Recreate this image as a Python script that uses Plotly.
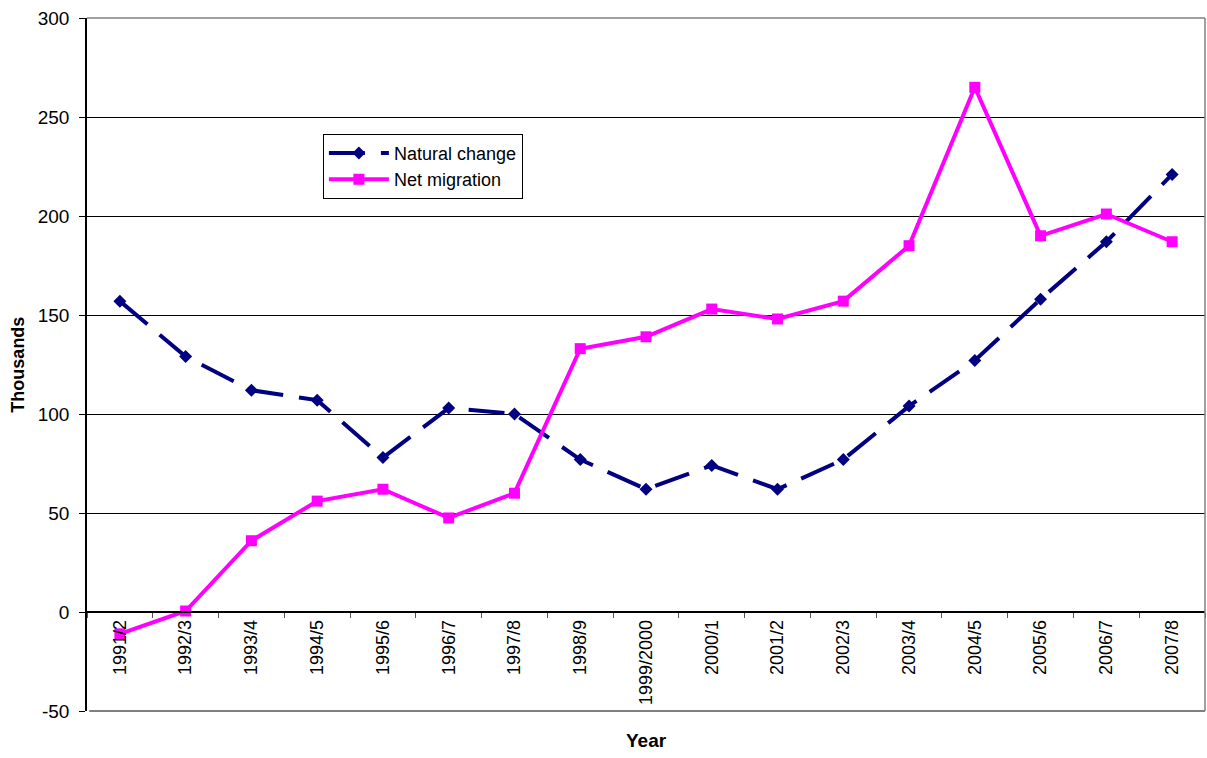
import plotly.graph_objects as go

years = ["1991/2", "1992/3", "1993/4", "1994/5", "1995/6", "1996/7", "1997/8", "1998/9",
         "1999/2000", "2000/1", "2001/2", "2002/3", "2003/4", "2004/5", "2005/6", "2006/7", "2007/8"]
natural_change = [157, 129, 112, 107, 78, 103, 100, 77, 62, 74, 62, 77, 104, 127, 158, 187, 221]
net_migration = [-11, 0.5, 36, 56, 62, 47.5, 60, 133, 139, 153, 148, 157, 185, 265, 190, 201, 187]

y_ticks = [-50, 0, 50, 100, 150, 200, 250, 300]
y_tick_labels = ["-50", "0", "50", "100", "150", "200", "250", "300"]

y_min, y_max = -50, 300
FONT = "Liberation Sans, Arial, sans-serif"

fig = go.Figure()
fig.add_trace(go.Scatter(
    x=years, y=natural_change, name="Natural change", mode="lines+markers",
    line=dict(color="#000080", width=4, dash="36px,16px"),
    marker=dict(symbol="diamond", size=10, color="#000080"),
))
fig.add_trace(go.Scatter(
    x=years, y=net_migration, name="Net migration", mode="lines+markers",
    line=dict(color="#FF00FF", width=4),
    marker=dict(symbol="square", size=11, color="#FF00FF"),
))

zero_pos = (0 - y_min) / (y_max - y_min)

fig.update_layout(
    width=1207, height=758,
    margin=dict(l=87, r=2, t=18, b=47),
    paper_bgcolor="white", plot_bgcolor="white",
    font=dict(family=FONT, size=17, color="black"),
    showlegend=True,
    legend=dict(
        x=0.211, y=0.833, xanchor="left", yanchor="top",
        bgcolor="white", bordercolor="black", borderwidth=1,
        font=dict(family=FONT, size=18, color="black"),
        itemwidth=60, tracegroupgap=0,
    ),
    xaxis=dict(
        type="category", anchor="free", position=zero_pos,
        showline=True, linecolor="black", linewidth=1.5,
        ticks="outside", ticklen=5, tickcolor="#555555", tickson="boundaries",
        tickangle=-90, showgrid=False, zeroline=False,
        tickfont=dict(family=FONT, size=18, color="black"),
        range=[-0.5, len(years) - 0.5],
        ticklabeloverflow="allow",
    ),
    yaxis=dict(
        range=[y_min, y_max], tickmode="array",
        tickvals=y_ticks, ticktext=y_tick_labels,
        showline=True, linecolor="black", linewidth=1.5,
        ticks="outside", ticklen=6, tickcolor="black",
        showgrid=True, gridcolor="black", gridwidth=1,
        zeroline=False,
        tickfont=dict(family=FONT, size=19, color="black"),
        ticklabelstandoff=6,
        ticklabeloverflow="allow",
    ),
    shapes=[
        dict(type="line", xref="paper", yref="paper", x0=0, x1=1, y0=1, y1=1,
             line=dict(color="#808080", width=1.5), layer="above"),
        dict(type="line", xref="paper", yref="paper", x0=1, x1=1, y0=0, y1=1,
             line=dict(color="#808080", width=1.5), layer="above"),
        dict(type="line", xref="paper", yref="paper", x0=0.002, x1=1, y0=0, y1=0,
             line=dict(color="#808080", width=2), layer="above"),
    ],
    annotations=[
        dict(text="<b>Year</b>", xref="paper", yref="paper", x=0.5, y=-0.043,
             xanchor="center", yanchor="middle", showarrow=False,
             font=dict(family=FONT, size=19, color="black")),
        dict(text="<b>Thousands</b>", xref="paper", yref="paper", x=-0.0625, y=0.5,
             xanchor="center", yanchor="middle", showarrow=False, textangle=-90,
             font=dict(family=FONT, size=18, color="black")),
    ],
)

fig.write_html("out.html", config={"displayModeBar": False},
               post_script="document.body.style.margin='0';document.body.style.overflow='hidden';")
